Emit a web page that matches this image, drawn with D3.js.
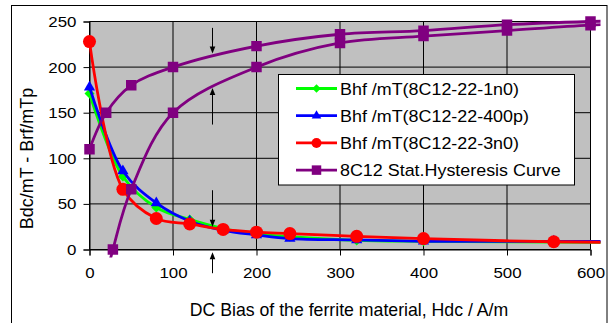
<!DOCTYPE html>
<html><head><meta charset="utf-8">
<script src="https://cdn.jsdelivr.net/npm/d3@7/dist/d3.min.js"></script>
<style>
html,body{margin:0;padding:0;background:#fff;}
text{font-family:"Liberation Sans",Arial,sans-serif;fill:#000;}
</style></head>
<body>
<svg id="c" width="610" height="323"></svg>
<script>
// ---- data ----
const xTicks = [0, 100, 200, 300, 400, 500, 600];
const yTicks = [0, 50, 100, 150, 200, 250];

const bhfX = [0, 40, 80, 120, 160, 200, 240, 320, 400, 556, 700];
const bhf1n0 = [171, 80, 46, 33, 23, 17, 14, 10, 9, 8, 7.5];
const bhf400p = [178, 86, 51, 31, 21, 16, 12, 10.5, 9, 9, 9];
const bhf3n0 = [228, 66, 34, 28, 22, 19, 17.5, 14.5, 12, 8.5, 7.5];

const hystUpperX = [0, 20, 50, 100, 200, 300, 400, 500, 600, 700];
const hystUpperY = [110, 150, 180, 200, 223, 236, 240, 246.5, 250, 252];
const hystLowerX = [0, 28, 50, 100, 200, 300, 400, 500, 600, 700];
const hystLowerY = [-110, 0, 66, 150, 200, 226.5, 234, 240, 246, 249];

const seriesNames = ["Bhf /mT(8C12-22-1n0)", "Bhf /mT(8C12-22-400p)", "Bhf /mT(8C12-22-3n0)", "8C12 Stat.Hysteresis Curve"];

// annotation arrows (x, from y, to y) in data units
const arrowX = [147, 147, 147, 147];
const arrowFrom = [243, 137, 65, -26];
const arrowTo = [215, 177, 25, -3];

const xTitle = "DC Bias of the ferrite material, Hdc / A/m";
const yTitle = "Bdc/mT - Brf/mTp";

// ---- layout ----
const L = 89.5, R = 590.5, T = 21.5, B = 249.5;
const svg = d3.select("#c");
const x = d3.scaleLinear().domain([0, 600]).range([L, R]);
const y = d3.scaleLinear().domain([0, 250]).range([B, T]);

// chart border
svg.append("rect").attr("x", 11.5).attr("y", 5.5).attr("width", 595.5).attr("height", 340)
  .attr("fill", "#fff").attr("stroke", "#000").attr("stroke-width", 1);

// plot area
svg.append("rect").attr("x", L).attr("y", T).attr("width", R - L).attr("height", B - T).attr("fill", "#c0c0c0");

// gridlines
svg.append("g").selectAll("line").data(yTicks).join("line")
  .attr("x1", L).attr("x2", R).attr("y1", d => y(d)).attr("y2", d => y(d))
  .attr("stroke", "#000").attr("stroke-width", 1);
svg.append("g").selectAll("line").data(xTicks).join("line")
  .attr("y1", T).attr("y2", B).attr("x1", d => x(d)).attr("x2", d => x(d))
  .attr("stroke", "#000").attr("stroke-width", 1);

// axes
const xAxis = d3.axisBottom(x).tickValues(xTicks).tickSize(6).tickPadding(11).tickFormat(d3.format("d"));
const yAxis = d3.axisLeft(y).tickValues(yTicks).tickSize(6).tickPadding(7).tickFormat(d3.format("d"));
const gx = svg.append("g").attr("transform", `translate(0,${B})`).call(xAxis);
const gy = svg.append("g").attr("transform", `translate(${L},0)`).call(yAxis);
[gx, gy].forEach(g => {
  g.select(".domain").attr("stroke", "#000").attr("stroke-width", 1);
  g.selectAll(".tick line").attr("stroke", "#000");
  g.selectAll(".tick text").attr("font-size", 15.5).attr("font-family", "Liberation Sans, Arial, sans-serif").attr("fill", "#000");
});
// slight horizontal widening of tick labels
gx.selectAll(".tick text").each(function() {
  const t = d3.select(this);
  const yy = +t.attr("y");
  t.attr("y", null).attr("transform", `translate(0,${yy}) scale(1.09,1)`);
});
gy.selectAll(".tick text").each(function() {
  const t = d3.select(this);
  const xx = +t.attr("x");
  t.attr("x", null).attr("transform", `translate(${xx},0) scale(1.09,1)`);
});

// titles
svg.append("text").attr("x", 349).attr("y", 316).attr("text-anchor", "middle").attr("font-size", 17.7).text(xTitle);
svg.append("text").attr("transform", "translate(33,158.5) rotate(-90)").attr("text-anchor", "middle").attr("font-size", 18).text(yTitle);

// clip
svg.append("clipPath").attr("id", "clip").append("rect")
  .attr("x", L - 10).attr("y", T - 10).attr("width", R - L + 20).attr("height", B - T + 18);

const line = d3.line().x(d => x(d[0])).y(d => y(d[1])).curve(d3.curveCatmullRom.alpha(0.5));
const plot = svg.append("g").attr("clip-path", "url(#clip)");

const circleSym = d3.symbol().type(d3.symbolCircle);
const triSym = d3.symbol().type(d3.symbolTriangle);
const sqSym = d3.symbol().type(d3.symbolSquare);

const series = [
  {xs: bhfX, ys: bhf1n0, color: "#00ff00", sym: sqSym.size(50)(), rot: 45},
  {xs: bhfX, ys: bhf400p, color: "#0000ff", sym: triSym.size(55)(), rot: 0},
  {xs: bhfX, ys: bhf3n0, color: "#ff0000", sym: circleSym.size(133)(), rot: 0}
];

function drawSeries(xs, ys, color, sym, rot) {
  const pts = xs.map((v, i) => [v, ys[i]]);
  plot.append("path").attr("d", line(pts)).attr("fill", "none").attr("stroke", color).attr("stroke-width", 2.8);
  plot.append("g").selectAll("path").data(pts).join("path")
    .attr("d", sym).attr("fill", color)
    .attr("transform", d => `translate(${x(d[0])},${y(d[1])}) rotate(${rot})`);
}
series.forEach(s => drawSeries(s.xs, s.ys, s.color, s.sym, s.rot));
drawSeries(hystUpperX, hystUpperY, "#800080", sqSym.size(110)(), 0);
drawSeries(hystLowerX, hystLowerY, "#800080", sqSym.size(110)(), 0);

// arrows
arrowX.forEach((ax, i) => {
  const px = Math.round(x(ax)) + 0.5;
  const y1 = y(arrowFrom[i]), y2 = y(arrowTo[i]);
  const dir = y2 > y1 ? 1 : -1;
  svg.append("line").attr("x1", px).attr("x2", px).attr("y1", y1).attr("y2", y2 - dir * 5)
    .attr("stroke", "#000").attr("stroke-width", 1);
  svg.append("path").attr("d", `M${px},${y2} L${px - 2.8},${y2 - dir * 7} L${px + 2.8},${y2 - dir * 7} Z`).attr("fill", "#000");
});

// legend
const lg = svg.append("g");
lg.append("rect").attr("x", 278.5).attr("y", 74.5).attr("width", 296).attr("height", 110.5)
  .attr("fill", "#fff").attr("stroke", "#000").attr("stroke-width", 1);
const legColors = ["#00ff00", "#0000ff", "#ff0000", "#800080"];
const legSyms = [sqSym.size(36)(), triSym.size(40)(), circleSym.size(78)(), sqSym.size(90)()];
const legRot = [45, 0, 0, 0];
seriesNames.forEach((n, i) => {
  const cy = 88.5 + i * 27.2;
  lg.append("line").attr("x1", 296).attr("x2", 337).attr("y1", cy).attr("y2", cy)
    .attr("stroke", legColors[i]).attr("stroke-width", 2.8);
  lg.append("path").attr("d", legSyms[i]).attr("fill", legColors[i])
    .attr("transform", `translate(316.5,${cy}) rotate(${legRot[i]})`);
  lg.append("text").attr("transform", `translate(340,${cy + 6}) scale(1.085,1)`).attr("font-size", 16.5).text(n);
});
</script>
</body></html>
